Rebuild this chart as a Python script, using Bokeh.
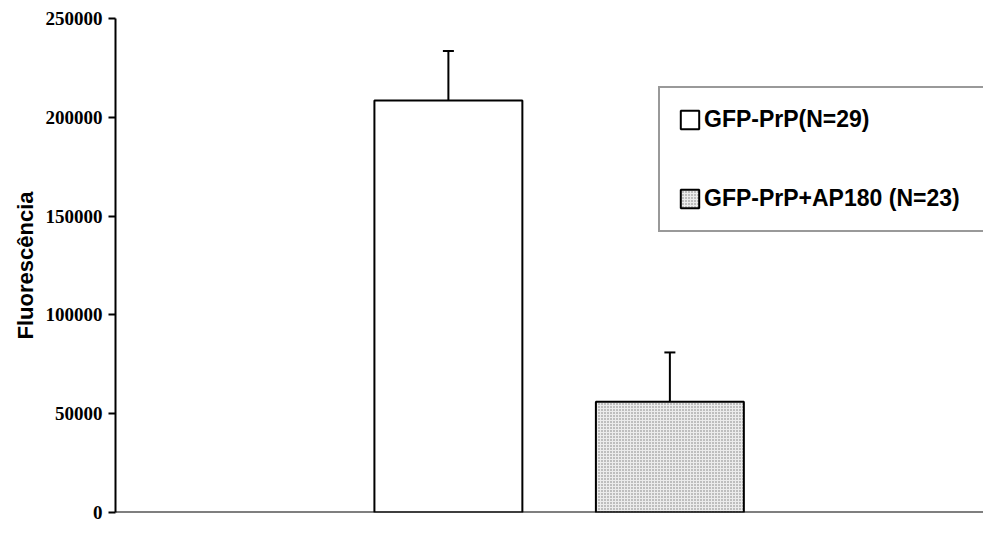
from bokeh.plotting import figure
from bokeh.models import (Range1d, FixedTicker, NumeralTickFormatter, Whisker, TeeHead,
                          ColumnDataSource, Legend, LegendItem, Span)
from bokeh.embed import file_html
from bokeh.resources import INLINE

# ---- data ----
categories = ["GFP-PrP(N=29)", "GFP-PrP+AP180 (N=23)"]
values = [208500, 56000]
errors = [25000, 25000]
y_ticks = [0, 50000, 100000, 150000, 200000, 250000]
y_title = "Fluorescência"

xs = [i + 1 for i in range(len(categories))]

p = figure(width=983, height=522, output_backend="svg", toolbar_location=None,
           x_range=Range1d(-0.503, 3.416), y_range=Range1d(0, 250000),
           x_axis_location=None,
           min_border_left=115, min_border_right=0, min_border_top=18, min_border_bottom=10)
p.outline_line_color = None
p.background_fill_color = "white"
p.border_fill_color = "white"
p.xgrid.visible = False
p.ygrid.visible = False

# bars
styles = [
    dict(fill_color="white"),
    dict(fill_color="#ececec", hatch_pattern="dot", hatch_scale=3, hatch_weight=1,
         hatch_color="#777777"),
]
renderers = []
for i, cat in enumerate(categories):
    src = ColumnDataSource(dict(x=[xs[i]], top=[values[i]]))
    r = p.vbar(x="x", top="top", width=0.668, source=src, line_color="black",
               line_width=2, **styles[i])
    renderers.append(r)

# error bars (upper only)
esrc = ColumnDataSource(dict(x=xs, lower=values,
                             upper=[v + e for v, e in zip(values, errors)]))
w = Whisker(base="x", lower="lower", upper="upper", source=esrc,
            line_width=2, line_color="black",
            upper_head=TeeHead(size=11, line_width=2, line_color="black"),
            lower_head=None)
p.add_layout(w)

# x axis line
p.add_layout(Span(location=0, dimension="width", line_color="black", line_width=2))

# y axis
ax = p.yaxis[0]
ax.ticker = FixedTicker(ticks=y_ticks)
ax.formatter = NumeralTickFormatter(format="0")
ax.minor_tick_line_color = None
ax.major_tick_in = 0
ax.major_tick_out = 7
ax.major_tick_line_width = 2
ax.major_tick_line_color = "black"
ax.axis_line_width = 2
ax.axis_line_color = "black"
ax.major_label_standoff = 6
ax.major_label_text_font = "Liberation Serif"
ax.major_label_text_font_style = "bold"
ax.major_label_text_font_size = "19px"
ax.major_label_text_color = "black"
ax.axis_label = y_title
ax.axis_label_text_font = "Liberation Sans"
ax.axis_label_text_font_style = "bold"
ax.axis_label_text_font_size = "22px"
ax.axis_label_text_color = "black"
ax.axis_label_standoff = 5

# legend
legend = Legend(items=[LegendItem(label=c, renderers=[r]) for c, r in zip(categories, renderers)],
                location=(543, 280), orientation="vertical",
                glyph_width=23, glyph_height=23, label_height=24, label_width=300,
                label_standoff=3, spacing=52, padding=18, margin=0,
                label_text_font="Liberation Sans", label_text_font_style="bold",
                label_text_font_size="23px", label_text_color="black",
                border_line_color="#333333", border_line_width=2,
                background_fill_color="white", background_fill_alpha=1.0)
p.add_layout(legend, "center")

open("out.html", "w").write(file_html(p, INLINE))
